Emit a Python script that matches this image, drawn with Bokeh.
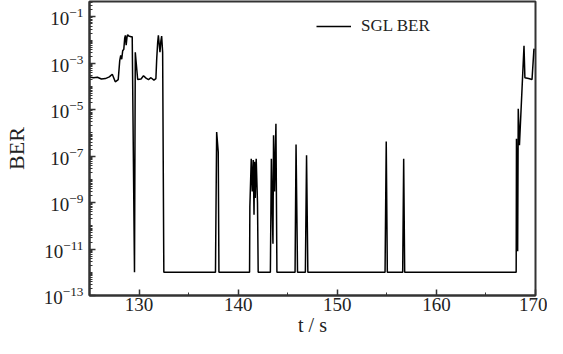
from bokeh.plotting import figure
from bokeh.models import Range1d, FixedTicker, LogTickFormatter
from bokeh.embed import file_html
from bokeh.resources import INLINE

# time (s) and bit error rate
t_s = [125.0, 125.4, 125.8, 126.2, 126.6, 127.0, 127.3, 127.6, 127.9, 128.05,
       128.15, 128.25, 128.35, 128.46, 128.55, 128.62, 128.7, 128.79, 128.85, 128.96,
       129.19, 129.31, 129.54, 129.62, 129.86, 130.2, 130.45, 130.7, 130.95, 131.2,
       131.5, 131.7, 131.78, 131.88, 131.95, 132.03, 132.11, 132.2, 132.28, 132.38,
       132.5,
       137.71, 137.83, 137.99, 138.06,
       141.15, 141.18, 141.32, 141.42, 141.52, 141.6, 141.65, 141.72, 141.82, 141.95, 142.02,
       143.25, 143.35, 143.51, 143.57, 143.67, 143.81, 143.91,
       145.74, 145.84, 145.99,
       146.78, 146.9, 147.03,
       154.82, 154.94, 155.05,
       156.6, 156.7, 156.8,
       168.05, 168.08, 168.2, 168.26, 168.38, 168.84, 168.93, 169.3, 169.65, 169.84, 169.9]
ber = [2.6e-4, 2.4e-4, 2.5e-4, 2.1e-4, 2.2e-4, 2.6e-4, 3.4e-4, 1.6e-4, 2.0e-4, 1.3e-3,
       2.2e-3, 1.5e-3, 3.5e-3, 4.0e-3, 1.2e-2, 1.6e-2, 6e-3, 1.4e-2, 1.7e-2, 1.5e-2,
       1.4e-2, 1.4e-2, 1e-12, 3e-3, 2.0e-4, 2.1e-4, 2.9e-4, 2.3e-4, 2.0e-4, 2.4e-4,
       1.9e-4, 2.2e-4, 1.5e-3, 8e-3, 1.6e-2, 7e-3, 3e-3, 9e-3, 1.5e-2, 3e-3,
       1e-12,
       1e-12, 1.1e-6, 1.5e-7, 1e-12,
       1e-12, 6.6e-10, 7.8e-8, 3e-9, 6.8e-8, 3e-10, 5.8e-8, 1.6e-9, 7.8e-8, 1e-9, 1e-12,
       1e-12, 7.8e-8, 1.7e-11, 8e-7, 3e-9, 2.5e-6, 1e-12,
       1e-12, 3.2e-7, 1e-12,
       1e-12, 1.1e-7, 1e-12,
       1e-12, 4.3e-7, 1e-12,
       1e-12, 7.8e-8, 1e-12,
       1e-12, 5.6e-7, 8e-12, 1.1e-5, 3e-7, 5.7e-3, 2.4e-4, 2.2e-4, 2.0e-4, 4e-3, 4.2e-3]

x_major = [130, 140, 150, 160, 170]
x_minor = [135, 145, 155, 165]
y_major = [1e-13, 1e-11, 1e-9, 1e-7, 1e-5, 1e-3, 1e-1]
series_name = "SGL BER"

FONT = "Liberation Serif"
INK = "#222222"

p = figure(width=547, height=338, y_axis_type="log",
           x_range=Range1d(125, 170), y_range=Range1d(1e-13, 0.46),
           output_backend="svg", toolbar_location=None,
           min_border_left=84, min_border_right=12, min_border_top=1, min_border_bottom=0)

p.line(t_s, ber, line_color="black", line_width=1.5, legend_label=series_name)

p.xgrid.visible = False
p.ygrid.visible = False
p.outline_line_color = "#333333"
p.outline_line_width = 2

y_minor = [m * 10.0 ** k for k in range(-13, 0) for m in range(1, 10) if not (m == 1 and (k % 2 != 0))]

for ax in (p.xaxis[0], p.yaxis[0]):
    ax.axis_line_color = "#333333"
    ax.axis_line_width = 2
    ax.major_tick_in = 6
    ax.major_tick_out = 0
    ax.minor_tick_in = 3
    ax.minor_tick_out = 0
    ax.major_tick_line_color = "#333333"
    ax.minor_tick_line_color = "#333333"
    ax.major_tick_line_width = 1.5
    ax.major_label_text_font = FONT
    ax.major_label_text_font_size = "19px"
    ax.major_label_text_color = INK
    ax.axis_label_text_font = FONT
    ax.axis_label_text_font_style = "normal"
    ax.axis_label_text_color = INK

p.xaxis.ticker = FixedTicker(ticks=x_major, minor_ticks=x_minor)
p.yaxis.ticker = FixedTicker(ticks=y_major, minor_ticks=y_minor)
p.yaxis.formatter = LogTickFormatter()

p.xaxis.axis_label = "t / s"
p.xaxis.axis_label_text_font_size = "20px"
p.xaxis.major_label_standoff = 2
p.xaxis.axis_label_standoff = 0

p.yaxis.axis_label = "BER"
p.yaxis.axis_label_text_font_size = "22px"
p.yaxis.major_label_standoff = 6
p.yaxis.axis_label_standoff = 12

lg = p.legend[0]
lg.location = (227, 259)
lg.border_line_color = None
lg.background_fill_alpha = 0
lg.padding = 0
lg.margin = 0
lg.glyph_width = 35
lg.glyph_height = 20
lg.label_height = 20
lg.label_standoff = 10
lg.label_text_font = FONT
lg.label_text_font_size = "17px"
lg.label_text_color = INK

open("out.html", "w").write(file_html(p, INLINE))
